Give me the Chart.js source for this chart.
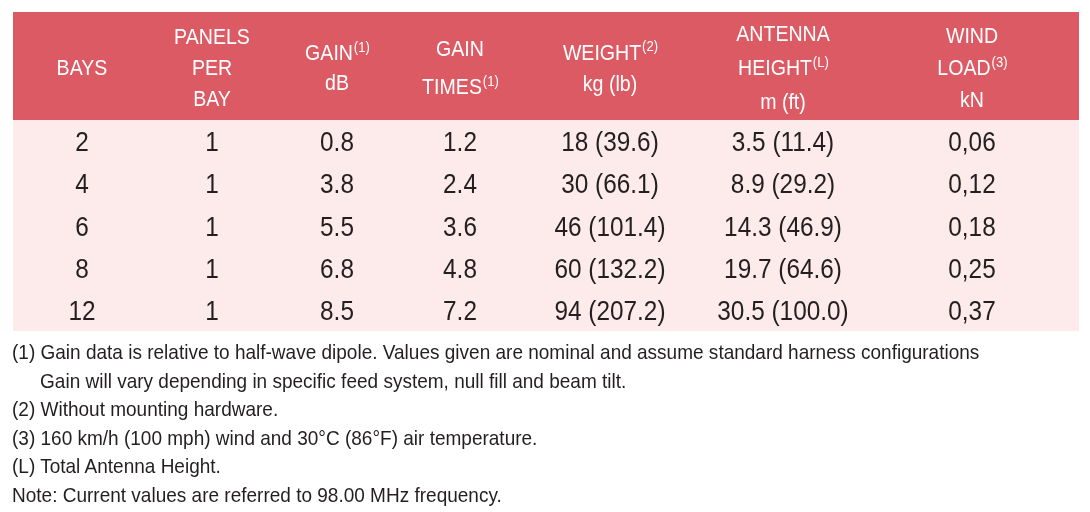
<!DOCTYPE html>
<html>
<head>
<meta charset="utf-8">
<script src="https://cdn.jsdelivr.net/npm/chart.js@4.4.1/dist/chart.umd.min.js"></script>
<style>
  body { margin: 0; background: #fff; }
  #wrap { position: relative; width: 1090px; height: 512px; }
  #notes {
    position: absolute; left: 12px; top: 338px;
    font-family: "Liberation Sans", Arial, sans-serif; font-size: 21px; color: #231f20;
    transform: scaleX(0.905); transform-origin: 0 0; white-space: nowrap;
  }
  #notes div { height: 28.6px; line-height: 28.6px; }
  #notes .indent { padding-left: 31px; }
</style>
</head>
<body>
<div id="wrap">
  <canvas id="chart" width="1090" height="340"></canvas>
  <div id="notes"></div>
</div>
<script>
// table values
const bays = [2, 4, 6, 8, 12];
const panelsPerBay = [1, 1, 1, 1, 1];
const gainDb = [0.8, 3.8, 5.5, 6.8, 8.5];
const gainTimes = [1.2, 2.4, 3.6, 4.8, 7.2];
const weightKg = [18, 30, 46, 60, 94];
const weightLb = [39.6, 66.1, 101.4, 132.2, 207.2];
const heightM = [3.5, 8.9, 14.3, 19.7, 30.5];
const heightFt = [11.4, 29.2, 46.9, 64.6, 100.0];
const windLoadKn = [0.06, 0.12, 0.18, 0.25, 0.37];

// header lines, "^" marks a superscript
const columnHeaders = [
  ['BAYS'],
  ['PANELS', 'PER', 'BAY'],
  ['GAIN^(1)', 'dB'],
  ['GAIN', 'TIMES^(1)'],
  ['WEIGHT^(2)', 'kg (lb)'],
  ['ANTENNA', 'HEIGHT^(L)', 'm (ft)'],
  ['WIND', 'LOAD^(3)', 'kN']
];

const footnotes = [
  '(1) Gain data is relative to half-wave dipole. Values given are nominal and assume standard harness configurations',
  '>Gain will vary depending in specific feed system, null fill and beam tilt.',
  '(2) Without mounting hardware.',
  '(3) 160 km/h (100 mph) wind and 30°C (86°F) air temperature.',
  '(L) Total Antenna Height.',
  'Note: Current values are referred to 98.00 MHz frequency.'
];

// layout (relative column widths, header height in row units, line pitch per header column)
const colWidths = [138, 122, 128, 118, 182, 164, 214];
const headerRows = 2.56;
const headerPitch = [31, 31, 30, 38, 31, 34, 32];
const squeeze = 0.87;
const headSize = 22.5;
const bodySize = 28;

const colCenters = [];
let acc = 0;
colWidths.forEach(w => { colCenters.push(acc + w / 2); acc += w; });
const totalWidth = acc;

const rowText = bays.map((b, i) => [
  String(b),
  String(panelsPerBay[i]),
  gainDb[i].toFixed(1),
  gainTimes[i].toFixed(1),
  weightKg[i] + ' (' + weightLb[i].toFixed(1) + ')',
  heightM[i].toFixed(1) + ' (' + heightFt[i].toFixed(1) + ')',
  windLoadKn[i].toFixed(2).replace('.', ',')
]);

const datasets = [{
  label: 'header',
  data: colCenters.map(x => ({ x: x, y: headerRows / 2 })),
  texts: columnHeaders,
  isHeader: true
}];
rowText.forEach((cells, i) => {
  datasets.push({
    label: 'row ' + bays[i],
    data: colCenters.map(x => ({ x: x, y: headerRows + i + 0.5 })),
    texts: cells,
    isHeader: false
  });
});

const FONT = '"Liberation Sans", Arial, sans-serif';

function drawLine(ctx, str, x, y, size, supSize) {
  const parts = str.split('^');
  ctx.font = size + 'px ' + FONT;
  const mainW = ctx.measureText(parts[0]).width;
  let supW = 0;
  if (parts[1]) {
    ctx.font = supSize + 'px ' + FONT;
    supW = ctx.measureText(parts[1]).width;
  }
  ctx.save();
  ctx.translate(x, y);
  ctx.scale(squeeze, 1);
  const start = -(mainW + supW) / 2;
  ctx.textAlign = 'left';
  ctx.textBaseline = 'alphabetic';
  ctx.font = size + 'px ' + FONT;
  ctx.fillText(parts[0], start, 0);
  if (parts[1]) {
    ctx.font = supSize + 'px ' + FONT;
    ctx.fillText(parts[1], start + mainW + 1, -size * 0.36);
  }
  ctx.restore();
}

const tablePlugin = {
  id: 'tableCells',
  beforeDatasetsDraw(chart) {
    const { ctx, chartArea } = chart;
    const y = chart.scales.y;
    const top = y.getPixelForValue(0);
    const mid = y.getPixelForValue(headerRows);
    const bottom = y.getPixelForValue(headerRows + bays.length);
    ctx.save();
    ctx.fillStyle = '#dc5a64';
    ctx.fillRect(chartArea.left, top, chartArea.right - chartArea.left, mid - top);
    ctx.fillStyle = '#fcebea';
    ctx.fillRect(chartArea.left, mid, chartArea.right - chartArea.left, bottom - mid);
    ctx.restore();
  },
  afterDatasetsDraw(chart) {
    const { ctx } = chart;
    chart.data.datasets.forEach((ds, di) => {
      const meta = chart.getDatasetMeta(di);
      meta.data.forEach((pt, j) => {
        if (ds.isHeader) {
          const lines = ds.texts[j];
          const pitch = headerPitch[j];
          ctx.fillStyle = '#ffffff';
          lines.forEach((ln, k) => {
            const ly = pt.y + 1 + (k - (lines.length - 1) / 2) * pitch;
            drawLine(ctx, ln, pt.x, ly + headSize * 0.716 / 2, headSize, 15);
          });
        } else {
          ctx.fillStyle = '#231f20';
          drawLine(ctx, ds.texts[j], pt.x, pt.y + bodySize * 0.716 / 2, bodySize, 16);
        }
      });
    });
  }
};

new Chart(document.getElementById('chart'), {
  type: 'scatter',
  data: { datasets: datasets },
  options: {
    responsive: false,
    animation: false,
    layout: { padding: { left: 13, right: 11, top: 12, bottom: 9 } },
    elements: { point: { radius: 0, hoverRadius: 0 } },
    plugins: { legend: { display: false }, tooltip: { enabled: false } },
    scales: {
      x: { type: 'linear', min: 0, max: totalWidth, display: false },
      y: { type: 'linear', min: 0, max: headerRows + bays.length, reverse: true, display: false }
    }
  },
  plugins: [tablePlugin]
});

const notes = document.getElementById('notes');
footnotes.forEach(t => {
  const d = document.createElement('div');
  if (t.startsWith('>')) { d.className = 'indent'; t = t.slice(1); }
  d.textContent = t;
  notes.appendChild(d);
});
</script>
</body>
</html>
